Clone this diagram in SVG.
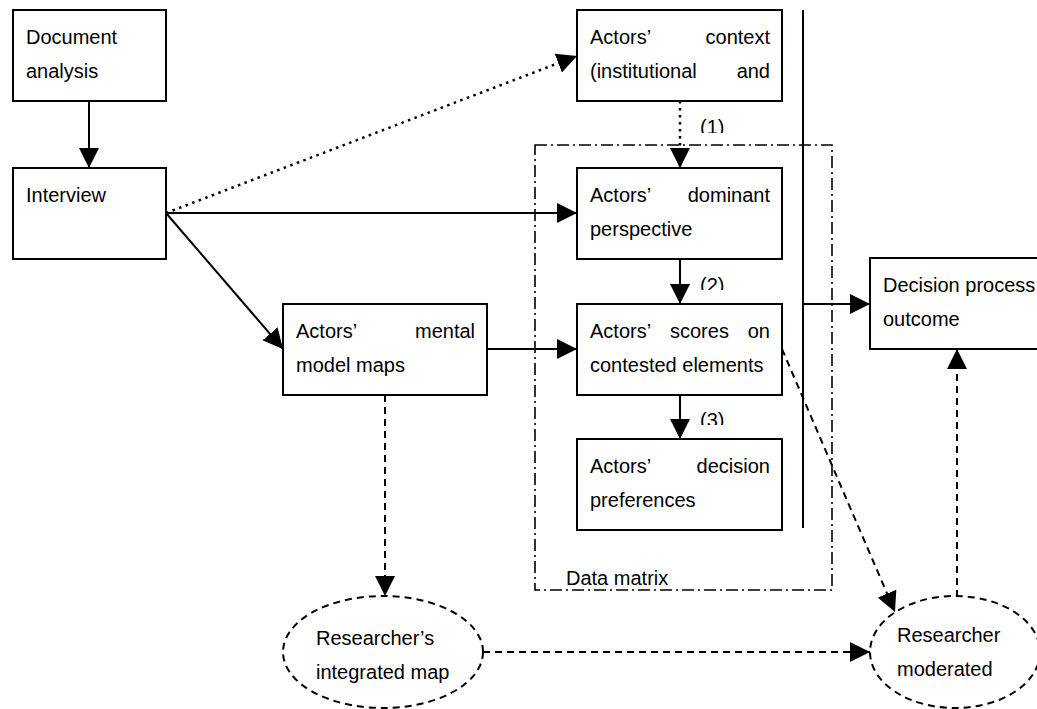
<svg xmlns="http://www.w3.org/2000/svg" width="1037" height="709" viewBox="0 0 1037 709">
<style>
text{font-family:"Liberation Sans",Arial,sans-serif;font-size:20px;fill:#000}
.box{fill:#fff;stroke:#000;stroke-width:2}
.ell{fill:#fff;stroke:#000;stroke-width:2;stroke-dasharray:7 5}
.ln{fill:none;stroke:#000;stroke-width:2}
.dash{stroke-dasharray:7 5}
.dot{stroke-width:2.5;stroke-dasharray:2.5 4.5}
.dm{fill:none;stroke:#000;stroke-width:1.6;stroke-dasharray:12 4 2 4}
.e{text-anchor:end}
</style>
<defs>
<marker id="ah" markerUnits="userSpaceOnUse" markerWidth="20" markerHeight="20" viewBox="0 0 18 18" refX="18" refY="9" orient="auto">
<path d="M0,0 L18,9 L0,18 Z" fill="#000"/>
</marker>
<clipPath id="c1"><rect x="690" y="110" width="50" height="23"/></clipPath>
<clipPath id="c2"><rect x="690" y="270" width="50" height="20"/></clipPath>
<clipPath id="c3"><rect x="690" y="405" width="50" height="20"/></clipPath>
</defs>

<g id="data-matrix">
<rect class="dm" x="535" y="145" width="297" height="445"/>
<text x="566" y="585">Data matrix</text>
</g>

<g id="divider">
<line class="ln" x1="803" y1="10" x2="803" y2="528"/>
</g>

<g id="connectors">
<line class="ln" x1="89" y1="101" x2="89" y2="168" marker-end="url(#ah)"/>
<line class="ln dot" x1="166" y1="213" x2="577" y2="56" marker-end="url(#ah)"/>
<line class="ln" x1="166" y1="213" x2="577" y2="213" marker-end="url(#ah)"/>
<line class="ln" x1="166" y1="213" x2="283" y2="349" marker-end="url(#ah)"/>
<line class="ln dot" x1="680" y1="101" x2="680" y2="168" marker-end="url(#ah)"/>
<line class="ln" x1="680" y1="259" x2="680" y2="304" marker-end="url(#ah)"/>
<line class="ln" x1="680" y1="395" x2="680" y2="439" marker-end="url(#ah)"/>
<line class="ln" x1="487" y1="349" x2="577" y2="349" marker-end="url(#ah)"/>
<line class="ln" x1="803" y1="304" x2="870" y2="304" marker-end="url(#ah)"/>
<line class="ln dash" x1="385" y1="395" x2="385" y2="596" marker-end="url(#ah)"/>
<line class="ln dash" x1="483" y1="652" x2="870" y2="652" marker-end="url(#ah)"/>
<line class="ln dash" x1="782" y1="349" x2="895" y2="612" marker-end="url(#ah)"/>
<line class="ln dash" x1="957" y1="597" x2="957" y2="349" marker-end="url(#ah)"/>
<text x="700" y="134" clip-path="url(#c1)">(1)</text>
<text x="700" y="292" clip-path="url(#c2)">(2)</text>
<text x="700" y="427" clip-path="url(#c3)">(3)</text>
</g>

<g id="document-analysis">
<rect class="box" x="13" y="10" width="153" height="91"/>
<text x="26" y="44">Document</text>
<text x="26" y="78">analysis</text>
</g>

<g id="interview">
<rect class="box" x="13" y="168" width="153" height="91"/>
<text x="26" y="202">Interview</text>
</g>

<g id="actors-context">
<rect class="box" x="577" y="10" width="205" height="91"/>
<text x="590" y="44">Actors’</text>
<text class="e" x="770" y="44">context</text>
<text x="590" y="78">(institutional</text>
<text class="e" x="770" y="78">and</text>
</g>

<g id="actors-dominant">
<rect class="box" x="577" y="168" width="205" height="91"/>
<text x="590" y="202">Actors’</text>
<text class="e" x="770" y="202">dominant</text>
<text x="590" y="236">perspective</text>
</g>

<g id="actors-scores">
<rect class="box" x="577" y="304" width="205" height="91"/>
<text x="590" y="338">Actors’</text>
<text x="670" y="338">scores</text>
<text class="e" x="770" y="338">on</text>
<text x="590" y="372">contested elements</text>
</g>

<g id="actors-decision">
<rect class="box" x="577" y="439" width="205" height="91"/>
<text x="590" y="473">Actors’</text>
<text class="e" x="770" y="473">decision</text>
<text x="590" y="507">preferences</text>
</g>

<g id="actors-mental">
<rect class="box" x="283" y="304" width="204" height="91"/>
<text x="296" y="338">Actors’</text>
<text class="e" x="475" y="338">mental</text>
<text x="296" y="372">model maps</text>
</g>

<g id="decision-process">
<rect class="box" x="870" y="258" width="180" height="91"/>
<text x="883" y="292">Decision process</text>
<text x="883" y="326">outcome</text>
</g>

<g id="researcher-integrated">
<ellipse class="ell" cx="383" cy="652" rx="100" ry="56"/>
<text x="316" y="645">Researcher’s</text>
<text x="316" y="679">integrated map</text>
</g>

<g id="researcher-moderated">
<ellipse class="ell" cx="955" cy="652" rx="85" ry="56"/>
<text x="897" y="642">Researcher</text>
<text x="897" y="676">moderated</text>
</g>
</svg>
